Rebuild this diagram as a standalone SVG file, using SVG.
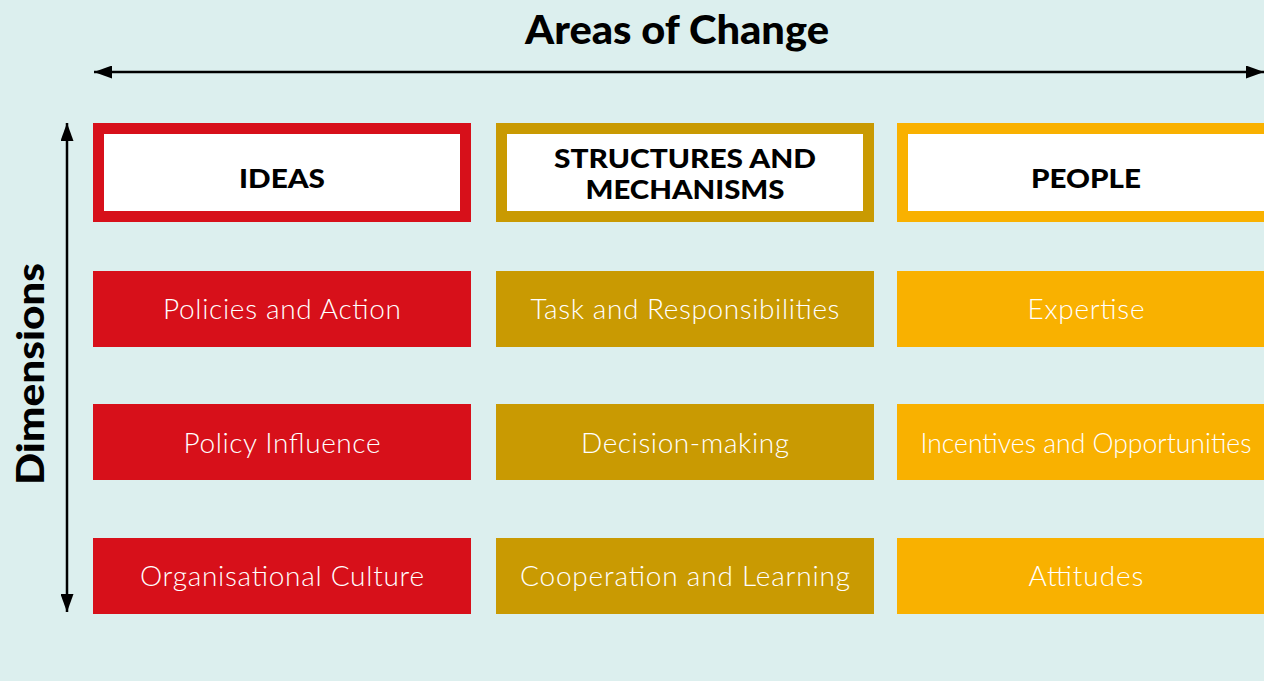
<svg xmlns="http://www.w3.org/2000/svg" width="1264" height="681" viewBox="0 0 1264 681">
<style>
.title{font-family:Lato,"Liberation Sans",sans-serif;font-weight:900;fill:#000;text-anchor:middle}
.head{font-family:Lato,"Liberation Sans",sans-serif;font-weight:900;font-size:27px;fill:#000;text-anchor:middle}
.cell{font-family:Lato,"Liberation Sans",sans-serif;font-weight:300;font-size:28px;fill:#fff;text-anchor:middle}
.axis{stroke:#000;stroke-width:2.5;fill:none}
</style>
<defs>
<marker id="ah" viewBox="0 0 18 13" refX="18" refY="6.5" markerWidth="18" markerHeight="13" markerUnits="userSpaceOnUse" orient="auto-start-reverse">
<path d="M0,0 L18,6.5 L0,13 z" fill="#000"/>
</marker>
</defs>
<rect width="1264" height="681" fill="#DCEFEE"/>
<text class="title" x="677" y="44" font-size="39" textLength="304" lengthAdjust="spacingAndGlyphs">Areas of Change</text>
<text class="title" x="0" y="0" font-size="37" textLength="222" lengthAdjust="spacingAndGlyphs" transform="translate(44,374) rotate(-90)">Dimensions</text>
<g id="connectors">
<line class="axis" x1="94" y1="72" x2="1264" y2="72" marker-start="url(#ah)" marker-end="url(#ah)"/>
<line class="axis" x1="67" y1="123" x2="67" y2="612" marker-start="url(#ah)" marker-end="url(#ah)"/>
</g>
<g id="ideas">
<rect x="98.5" y="128.5" width="367" height="88" fill="#fff" stroke="#D7101A" stroke-width="11"/>
<text class="head" x="282" y="188" textLength="86" lengthAdjust="spacingAndGlyphs">IDEAS</text>
</g>
<g id="structures">
<rect x="501.5" y="128.5" width="367" height="88" fill="#fff" stroke="#C99A02" stroke-width="11"/>
<text class="head" x="685" y="168" textLength="262" lengthAdjust="spacingAndGlyphs">STRUCTURES AND</text>
<text class="head" x="685" y="199" textLength="199" lengthAdjust="spacingAndGlyphs">MECHANISMS</text>
</g>
<g id="people">
<rect x="902.5" y="128.5" width="367" height="88" fill="#fff" stroke="#F9B100" stroke-width="11"/>
<text class="head" x="1086" y="188" textLength="110" lengthAdjust="spacingAndGlyphs">PEOPLE</text>
</g>
<g id="policies-action"><rect x="93" y="271" width="378" height="76" fill="#D7101A"/><text class="cell" x="282" y="319" textLength="238">Policies and Action</text></g>
<g id="policy-influence"><rect x="93" y="404" width="378" height="76" fill="#D7101A"/><text class="cell" x="282" y="453" textLength="197">Policy Influence</text></g>
<g id="org-culture"><rect x="93" y="538" width="378" height="76" fill="#D7101A"/><text class="cell" x="282" y="586" textLength="284">Organisational Culture</text></g>
<g id="task-resp"><rect x="496" y="271" width="378" height="76" fill="#C99A02"/><text class="cell" x="685" y="319" textLength="309">Task and Responsibilities</text></g>
<g id="decision"><rect x="496" y="404" width="378" height="76" fill="#C99A02"/><text class="cell" x="685" y="453" textLength="208">Decision-making</text></g>
<g id="cooperation"><rect x="496" y="538" width="378" height="76" fill="#C99A02"/><text class="cell" x="685" y="586" textLength="330">Cooperation and Learning</text></g>
<g id="expertise"><rect x="897" y="271" width="378" height="76" fill="#F9B100"/><text class="cell" x="1086" y="319" textLength="117">Expertise</text></g>
<g id="incentives"><rect x="897" y="404" width="378" height="76" fill="#F9B100"/><text class="cell" x="1086" y="453" textLength="331" lengthAdjust="spacingAndGlyphs">Incentives and Opportunities</text></g>
<g id="attitudes"><rect x="897" y="538" width="378" height="76" fill="#F9B100"/><text class="cell" x="1086" y="586" textLength="115">Attitudes</text></g>
</svg>
